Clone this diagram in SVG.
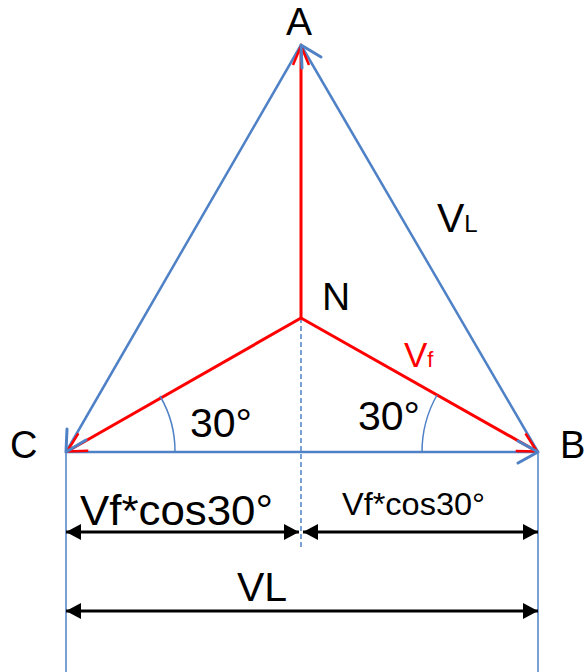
<svg xmlns="http://www.w3.org/2000/svg" width="588" height="672" viewBox="0 0 588 672">
<style>
.blue{stroke:#4F81C6;stroke-width:2.5;fill:none}
.blueh{stroke:#4F81C6;stroke-width:3;fill:none;stroke-linecap:round;stroke-linejoin:round}
.red{stroke:#FF0000;stroke-width:3;fill:none}
.redh{stroke:#FF0000;stroke-width:2.5;fill:none}
.dim{stroke:#000;stroke-width:3;fill:none}
.thin{stroke:#4F81C6;stroke-width:1.5;fill:none}
text{font-family:"Liberation Sans",Arial,sans-serif;fill:#000}
</style>
<defs>
<marker id="ak" markerUnits="userSpaceOnUse" markerWidth="20" markerHeight="20" refX="0" refY="0" orient="auto-start-reverse" overflow="visible">
<path d="M-15,-8 L0,0 L-15,8 Z" fill="#000"/>
</marker>
</defs>
<g id="connectors">
<line class="thin" x1="66" y1="452" x2="66" y2="672"/>
<line class="thin" x1="538" y1="452" x2="538" y2="672"/>
<line class="thin" x1="301" y1="318" x2="301" y2="548" stroke-dasharray="5,3"/>
<line class="blue" x1="538" y1="452" x2="301" y2="45"/>
<line class="blue" x1="301" y1="45" x2="66" y2="452"/>
<line class="blue" x1="66" y1="452" x2="538" y2="452"/>
<line class="red" x1="301" y1="318" x2="301" y2="46"/>
<polyline class="redh" points="293,65 301,46 309,65"/>
<line class="red" x1="301" y1="318" x2="67" y2="451.5"/>
<polyline class="redh" points="88.3,450.8 67,451.5 78.4,433.4"/>
<line class="red" x1="301" y1="318" x2="537" y2="451.5"/>
<polyline class="redh" points="515.7,450.9 537,451.5 525.5,433.5"/>
<polyline class="blueh" points="321,57 301,45 302,68"/>
<polyline class="blueh" points="86,440 66,452 67,429"/>
<polyline class="blueh" points="518,441 538,452 518,463"/>
<path class="thin" d="M175,452 A109,109 0 0 0 160,396"/>
<path class="thin" d="M422,452 A116,116 0 0 1 437,395"/>
<line class="dim" x1="66" y1="532" x2="299" y2="532" marker-start="url(#ak)" marker-end="url(#ak)"/>
<line class="dim" x1="303" y1="532" x2="538" y2="532" marker-start="url(#ak)" marker-end="url(#ak)"/>
<line class="dim" x1="66" y1="611" x2="538" y2="611" marker-start="url(#ak)" marker-end="url(#ak)"/>
</g>
<g id="node-A"><text x="299" y="35" font-size="39" text-anchor="middle">A</text></g>
<g id="node-C"><text x="10" y="458" font-size="38">C</text></g>
<g id="node-B"><text x="560" y="458" font-size="38">B</text></g>
<g id="node-N"><text x="336" y="310" font-size="39" text-anchor="middle">N</text></g>
<g id="label-VL-top"><text x="437" y="232" font-size="41">V<tspan font-size="24">L</tspan></text></g>
<g id="label-Vf"><text x="404" y="367" font-size="35" style="fill:#FF0000">V<tspan font-size="22">f</tspan></text></g>
<g id="label-30-left"><text x="190" y="437" font-size="41">30°</text></g>
<g id="label-30-right"><text x="358" y="430" font-size="41">30°</text></g>
<g id="label-cos-left"><text x="80" y="525" font-size="42" textLength="193" lengthAdjust="spacingAndGlyphs">Vf*cos30°</text></g>
<g id="label-cos-right"><text x="342" y="515" font-size="32" textLength="143" lengthAdjust="spacingAndGlyphs">Vf*cos30°</text></g>
<g id="label-VL-bottom"><text x="237" y="601" font-size="41">VL</text></g>
</svg>
